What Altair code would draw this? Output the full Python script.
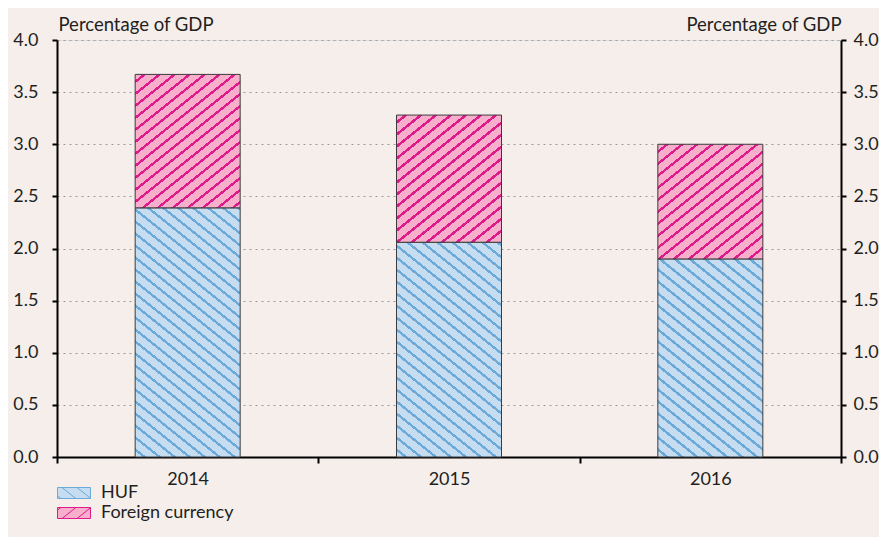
import altair as alt
import pandas as pd

# ---- data ----
years = ["2014", "2015", "2016"]
series = ["HUF", "Foreign currency"]
huf = [2.39, 2.06, 1.90]
foreign = [1.28, 1.22, 1.10]
y_ticks = [0, 0.5, 1.0, 1.5, 2.0, 2.5, 3.0, 3.5, 4.0]
y_title = "Percentage of GDP"

# ---- style ----
BG = "#F5EEEB"
HUF_FILL, HUF_LINE = "#C5DCF1", "#6CAAD9"
FX_FILL, FX_LINE = "#F7AFCB", "#DF1A8B"
TEXT = "#231F20"
FONT = "Lato"
FS = 18
W, H = 784, 417
YMAX = 4.0
BAR_W = 105

rows = []
for i, yr in enumerate(years):
    rows.append({"year": yr, "series": series[0], "value": huf[i], "order": 0})
    rows.append({"year": yr, "series": series[1], "value": foreign[i], "order": 1})
df = pd.DataFrame(rows)


def hatch_gradient(w, h, bg, line, direction, m=0.8, spacing=15.0, thick=2.4):
    """Linear gradient with hard stops that imitates a diagonal hatch."""
    c = (m * w + h) / (m * m * w * w + h * h)
    if direction == "fwd":  # "/"
        x1, y1, x2, y2 = 0, 0, c * m * w, c * h
    else:  # "\"
        x1, y1, x2, y2 = 0, 1, c * m * w, 1 - c * h
    L = m * w + h
    period = m * spacing
    lw = thick * (m * m + 1) ** 0.5
    stops = [{"offset": 0, "color": bg}]
    s = period / 2
    while s < L:
        a = s / L
        b = min((s + lw) / L, 1)
        stops += [{"offset": a, "color": bg}, {"offset": a, "color": line},
                  {"offset": b, "color": line}, {"offset": b, "color": bg}]
        s += period
    stops.append({"offset": 1, "color": bg})
    return {"gradient": "linear", "x1": x1, "y1": y1, "x2": x2, "y2": y2, "stops": stops}


def hatch_path(direction, m=0.8, spacing=15.0 / 5.5):
    run = 2.0 / m
    p = "M-3,-1L3,-1L3,1L-3,1Z"
    x0 = -3 - run + 0.6
    while x0 < 3:
        xa, xb = max(x0, -3), min(x0 + run, 3)
        if xb > xa:
            if direction == "back":
                ya, yb = -1 + m * (xa - x0), -1 + m * (xb - x0)
            else:
                ya, yb = 1 - m * (xa - x0), 1 - m * (xb - x0)
            p += f"M{xa:.3f},{ya:.3f}L{xb:.3f},{yb:.3f}"
        x0 += spacing
    return p


axis_common = dict(
    labelFont=FONT, labelFontSize=FS, labelColor=TEXT,
    titleFont=FONT, titleFontSize=FS + 0.5, titleColor=TEXT, titleFontWeight="normal",
    domainColor="#000000", domainWidth=2, tickColor="#000000", tickWidth=2,
)

x_enc = alt.X(
    "year:N", sort=years,
    scale=alt.Scale(domain=years, paddingInner=0, paddingOuter=0),
    axis=alt.Axis(title=None, labelAngle=0, tickBand="extent", tickSize=6,
                  labelPadding=7, grid=False, **axis_common),
)
y_enc = alt.Y(
    "v0:Q", scale=alt.Scale(domain=[0, YMAX], nice=False),
    axis=alt.Axis(values=y_ticks, format=".1f", orient="left", title=y_title,
                  titleAngle=0, titleAlign="left", titleX=1, titleY=-10,
                  titleBaseline="alphabetic", tickSize=5, labelPadding=14,
                  grid=True, gridDash=[2, 4], gridColor="#9A9A9A", gridWidth=1,
                  **axis_common),
)

base = alt.Chart(df).transform_stack(
    stack="value", groupby=["year"], as_=["v0", "v1"],
    sort=[alt.SortField("order", order="ascending")],
)

bar_layers = []
for i, yr in enumerate(years):
    for s, vals, bg, ln, d in [(series[0], huf, HUF_FILL, HUF_LINE, "back"),
                               (series[1], foreign, FX_FILL, FX_LINE, "fwd")]:
        h = vals[i] * H / YMAX
        grad = hatch_gradient(BAR_W, h, bg, ln, d)
        bar_layers.append(
            base.transform_filter(f"datum.year == '{yr}' && datum.series == '{s}'")
            .mark_bar(width=BAR_W, fill=grad, stroke="#3C3C3C", strokeWidth=1)
            .encode(x=x_enc, y=y_enc, y2="v1:Q")
        )

leg = alt.Legend(title=None, orient="none", legendX=8, legendY=444, direction="vertical",
                 symbolSize=121, labelFont=FONT, labelFontSize=FS, labelColor=TEXT,
                 labelOffset=18, rowPadding=2, symbolStrokeWidth=1)
legend_layer = alt.Chart(df).transform_filter("false").mark_point(
    opacity=1, filled=True, strokeWidth=1
).encode(
    fill=alt.Fill("series:N", scale=alt.Scale(domain=series, range=[HUF_FILL, FX_FILL]), legend=leg),
    stroke=alt.Stroke("series:N", scale=alt.Scale(domain=series, range=[HUF_LINE, FX_LINE]), legend=leg),
    shape=alt.Shape("series:N", scale=alt.Scale(domain=series, range=[hatch_path("back"), hatch_path("fwd")]), legend=leg),
)

right_layer = alt.Chart(df).transform_filter("false").mark_rule().encode(
    y=alt.Y("value:Q", scale=alt.Scale(domain=[0, YMAX], nice=False),
            axis=alt.Axis(values=y_ticks, format=".1f", orient="right", title=y_title,
                          titleAngle=0, titleAlign="right", titleX=0, titleY=-10,
                          titleBaseline="alphabetic", tickSize=5, labelPadding=7,
                          grid=False, **axis_common))
)

inner = alt.layer(*bar_layers, legend_layer)
chart = alt.layer(inner, right_layer).resolve_scale(y="independent").properties(
    width=W, height=H, autosize="none",
    padding={"left": 49, "top": 32, "right": 38, "bottom": 80},
    background=BG,
).configure_view(stroke="transparent").configure(font=FONT)

chart.save("out.html", embed_options={"renderer": "svg", "actions": False})
